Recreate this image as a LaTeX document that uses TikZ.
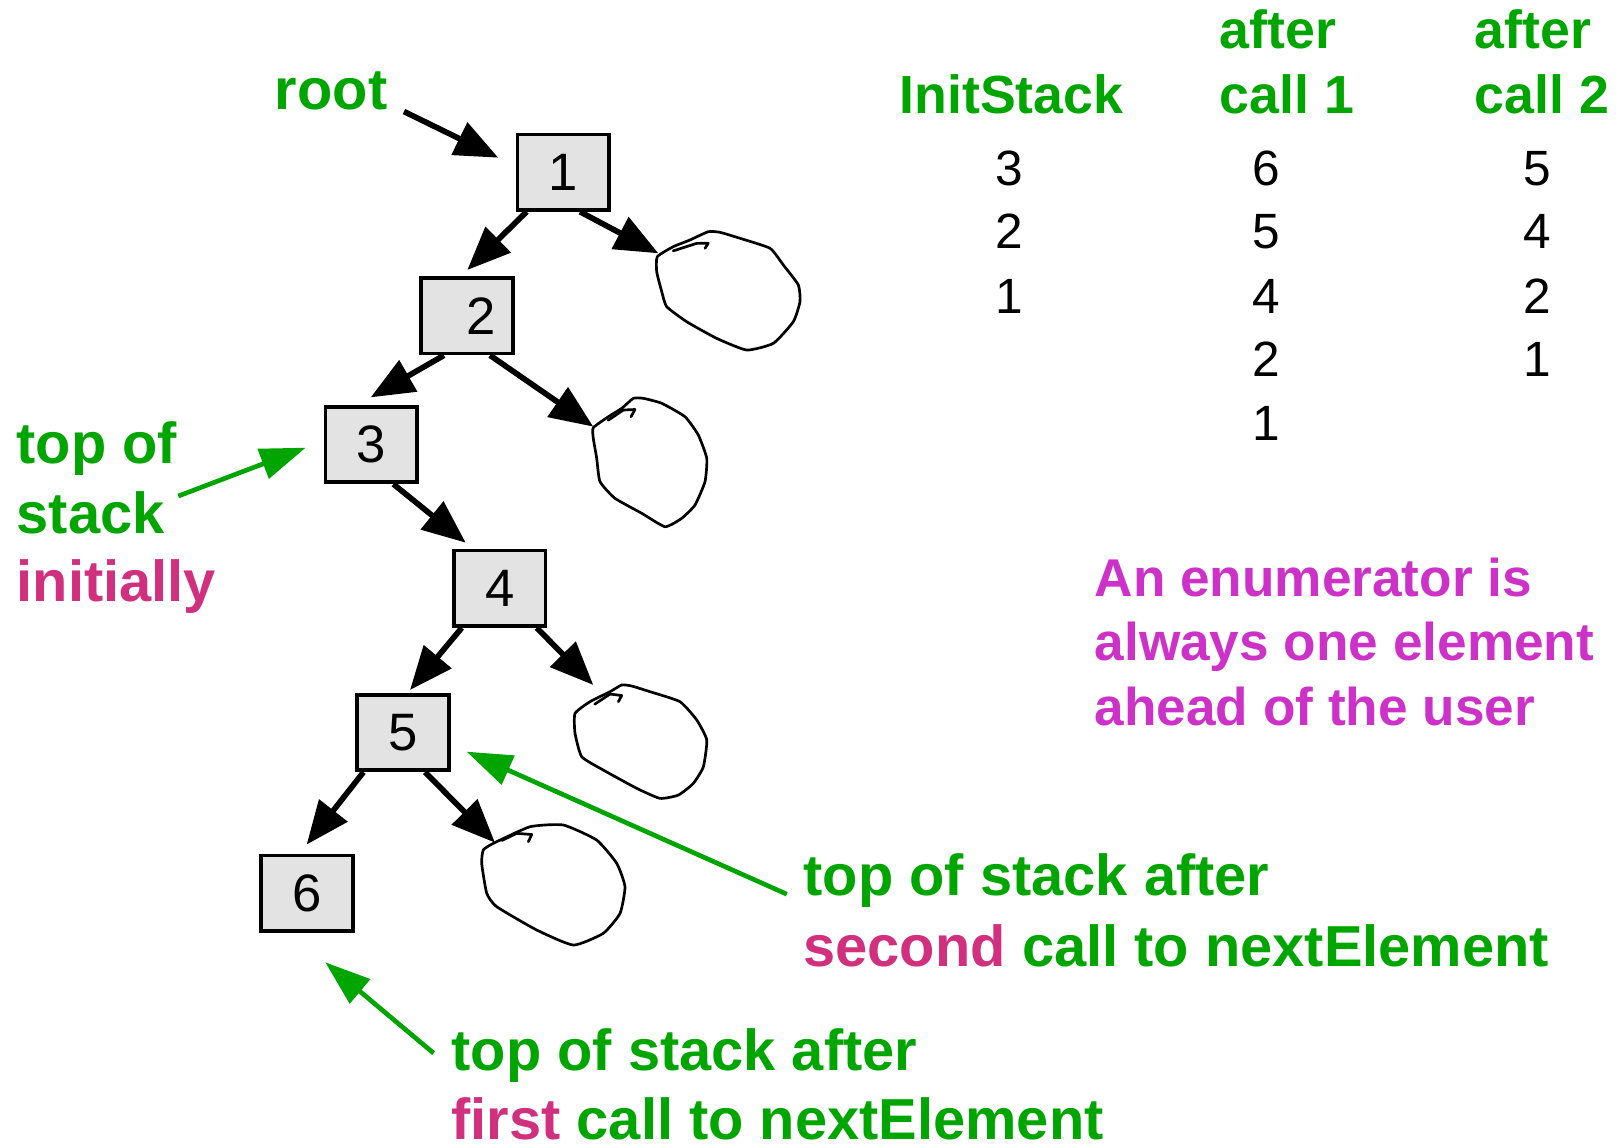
\documentclass[tikz,border=0pt]{standalone}
\usepackage{fontspec}
\setmainfont{Liberation Sans}
\usetikzlibrary{arrows.meta,calc}

\definecolor{labgreen}{RGB}{0,165,0}
\definecolor{labred}{RGB}{208,48,125}
\definecolor{notepurple}{RGB}{205,50,200}
\definecolor{boxgray}{RGB}{227,227,227}

\newcommand\annfont{\fontsize{56}{64}\selectfont\bfseries}
\newcommand\hdrfont{\fontsize{52}{60}\selectfont\bfseries}
\newcommand\notefont{\fontsize{51.5}{60}\selectfont\bfseries}
\newcommand\numfont{\fontsize{48}{56}\selectfont}
\newcommand\boxfont{\fontsize{51}{56}\selectfont}

\tikzset{
  tnode/.style={draw=black, line width=3.5pt, fill=boxgray, minimum width=89pt,
    minimum height=73pt, inner sep=0pt, font=\boxfont},
  ann/.style={anchor=base west, inner sep=0pt, font=\annfont, text=labgreen},
  hdr/.style={anchor=base west, inner sep=0pt, font=\hdrfont, text=labgreen},
  note/.style={anchor=base west, inner sep=0pt, font=\notefont, text=notepurple},
  num/.style={anchor=base, inner sep=0pt, font=\numfont},
  treearrow/.style={line width=5.5pt, -{Triangle[length=42pt,width=34pt]}},
  pointer/.style={draw=labgreen, line width=4.5pt, -{Triangle[length=44pt,width=30pt]}},
  loopline/.style={line width=2.6pt, line join=round, line cap=round},
}

\begin{document}
\begin{tikzpicture}[x=1pt, y=-1pt]
\useasboundingbox (0,0) rectangle (1568,1111);

% tree nodes
\node[tnode] (b1) at (545.6,166.8) {1};
\node[tnode] (b2) at (452.4,305.9) {\hspace*{27pt}2};
\node[tnode] (b3) at (359.6,430.6) {3};
\node[tnode] (b4) at (483.9,569.8) {4};
\node[tnode] (b5) at (390.5,709.5) {5};
\node[tnode] (b6) at (297.5,865.2) {6};

% empty subtrees, drawn as freehand loops
\coordinate (lA) at (637.6,245.3);
\coordinate (lB) at (574.6,413.2);
\coordinate (lC) at (574.6,663.4);
\coordinate (lD) at (479.4,816.1);

\draw[loopline] plot[smooth cycle, tension=0.3] coordinates {
  (636.6,248.6) (652.1,238.9) (668.3,232.4) (686,224.4) (697.3,225) (716.7,230.8)
  (745.8,240.5) (758.7,256.7) (773.2,276) (774.8,292.2) (768.3,311.6) (749,332.5)
  (723.2,339) (694.1,327.7) (665.1,311.6) (645.7,297) (640.9,282.5) (636,263.1)};
\draw[loopline] (652,243) -- (674.7,235.7) -- (686,235.6) -- (682.8,240.5);

\draw[loopline] plot[smooth cycle, tension=0.3] coordinates {
  (574.6,414.2) (589.2,403.6) (602.1,395.5) (613.4,385.8) (623.1,385.8) (640.9,390.6)
  (663.4,403.6) (676.3,421.3) (684.5,443.9) (682.8,466.5) (673.1,489.1) (660.2,502)
  (644.1,510.1) (621.5,497.1) (595.6,482.6) (581.1,466.5) (577.9,443.9) (574.6,424.5)};
\draw[loopline] (589,407) -- (603.7,397.1) -- (615,396.6) -- (611.1,403.6);

\draw[loopline] plot[smooth cycle, tension=0.3] coordinates {
  (571.4,679.6) (590.8,669.9) (602.1,663.4) (611.8,664.4) (629.5,669.9) (658.6,679.6)
  (674.8,697.3) (684.5,716.7) (681.2,742.6) (671.5,758.7) (657,770) (639.2,773.2)
  (616.7,763.5) (584.3,745.8) (563.4,732.9) (556.9,710.2) (556.9,690.9)};
\draw[loopline] (576,682) -- (590.8,672.2) -- (602.1,673.6) -- (598.9,679.6);

\draw[loopline] plot[smooth cycle, tension=0.3] coordinates {
  (477.8,816.8) (513.3,800.7) (545.6,799) (577.9,813.6) (597.3,836.1) (605.3,858.8)
  (600.5,884.6) (584.3,903.9) (555.3,915.3) (519.8,900.7) (481,878.1) (471.4,865.2)
  (466.5,836.1) (468.1,823.2)};
\draw[loopline] (486,814) -- (500.4,807.1) -- (515,808.2) -- (511.7,815.2);

% tree edges
\draw[treearrow] ($(b1.south)+(-35.6,0)$) -- ($(b2.north)+(0.2,-6.2)$);
\draw[treearrow] ($(b1.south)+(16.1,0)$) -- (lA);
\draw[treearrow] ($(b2.south)+(-22.4,0)$) -- ($(b3.north)+(-0.6,-7.5)$);
\draw[treearrow] ($(b2.south)+(22.2,0)$) -- (lB);
\draw[treearrow] ($(b3.south)+(21.4,0)$) -- ($(b4.north)+(-32.9,-6)$);
\draw[treearrow] ($(b4.south)+(-36.7,0)$) -- ($(b5.north)+(6.6,-3)$);
\draw[treearrow] ($(b4.south)+(35.9,0)$) -- (lC);
\draw[treearrow] ($(b5.south)+(-38.5,0)$) -- ($(b6.north)+(-0.5,-9)$);
\draw[treearrow] ($(b5.south)+(21.1,0)$) -- (lD);

% root label
\node[ann] (root) at (266,106) {root};
\draw[treearrow] ($(root.base east)+(16,2)$) -- ($(b1.west)+(-16.75,-14.1)$);

% initial top of stack
\node[ann] (initA) at (16,448.7) {top of};
\node[ann] (initB) at (16,516.5) {stack};
\node[ann, text=labred] (initC) at (16,582.7) {initially};
\coordinate (initFrom) at (172.7,480.4);
\draw[pointer] (initFrom) -- ($(b3.west)+(-17.35,3)$);

% stack contents table
\node[hdr] (hInit) at (871,109.5) {InitStack};
\node[hdr] (hOneA) at (1181,46.8) {after};
\node[hdr] (hOneB) at (1181,109.5) {call 1};
\node[hdr] (hTwoA) at (1428,46.8) {after};
\node[hdr] (hTwoB) at (1428,109.5) {call 2};

\node[num] (s0a) at (977,179.2) {3};
\node[num] (s0b) at (977,240.5) {2};
\node[num] (s0c) at (977,303.5) {1};

\node[num] (s1a) at (1226,179.2) {6};
\node[num] (s1b) at (1226,240.5) {5};
\node[num] (s1c) at (1226,303.5) {4};
\node[num] (s1d) at (1226,364.8) {2};
\node[num] (s1e) at (1226,426.2) {1};

\node[num] (s2a) at (1489,179.2) {5};
\node[num] (s2b) at (1489,240.5) {4};
\node[num] (s2c) at (1489,303.5) {2};
\node[num] (s2d) at (1489,364.8) {1};

% side note
\node[note] (noteA) at (1060,578) {An enumerator is};
\node[note] (noteB) at (1060,639.2) {always one element};
\node[note] (noteC) at (1060,702.2) {ahead of the user};

% after the second call
\node[ann] (secA) at (778,866.8) {top of stack after};
\node[ann] (secB) at (778,936.2) {\textcolor{labred}{second} call to nextElement};
\coordinate (secFrom) at (762,866);
\draw[pointer] (secFrom) -- ($(b5.east)+(15.25,18.5)$);

% after the first call
\node[ann] (firA) at (437,1037) {top of stack after};
\node[ann] (firB) at (437,1104) {\textcolor{labred}{first} call to nextElement};
\coordinate (firFrom) at (420,1020);
\draw[pointer] (firFrom) -- ($(b6.south)+(17.5,28.5)$);
\end{tikzpicture}
\end{document}
